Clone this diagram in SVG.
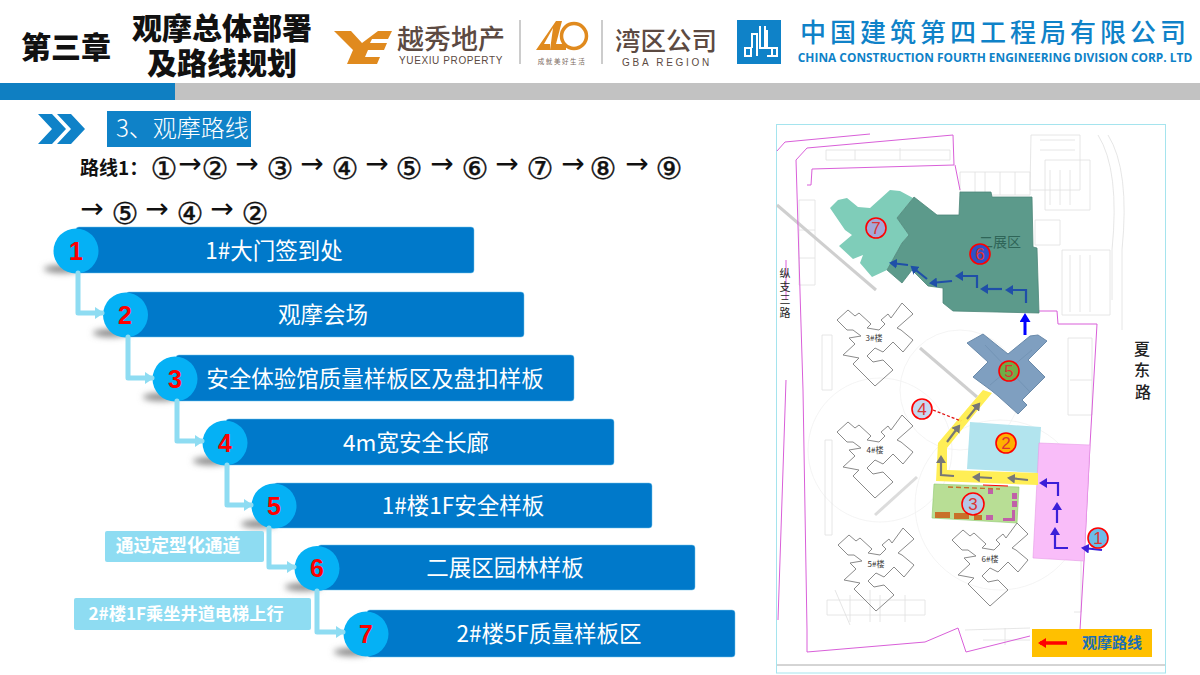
<svg xmlns="http://www.w3.org/2000/svg" xmlns:xlink="http://www.w3.org/1999/xlink" width="1200" height="675" viewBox="0 0 1200 675">
<style>
text{font-family:"Noto Sans CJK SC","Liberation Sans",sans-serif}
.bar{fill:#0079ca;stroke:#6cc0e8;stroke-width:.5}
.bt{fill:#fff;font-size:22.5px;text-anchor:middle}
.num{font-family:"Liberation Sans",sans-serif;font-weight:700;font-size:25px;fill:#f00;text-anchor:middle}
.c{fill:#05b1f5}
.sh{fill:#8a8a8a;filter:url(#b)}
.link{fill:none;stroke:#8edcf2;stroke-width:5;stroke-linejoin:round;stroke-linecap:round;marker-end:url(#ah)}
.tag{fill:#8edcf2}
.tt{fill:#fff;font-weight:700;text-anchor:middle}
.rt{font-size:30px;font-family:"DejaVu Sans",sans-serif;text-anchor:middle;fill:#111;stroke:#111;stroke-width:.4}
.ra{font-size:28px;font-family:"DejaVu Sans",sans-serif;text-anchor:middle;fill:#111}
.b{fill:none;stroke:#8a8a8a;stroke-width:1}
.lbl{font-size:8px;fill:#333;text-anchor:middle}
.pk{fill:none;stroke:#d95fd9;stroke-width:1}
.lg{fill:none;stroke:#dfdfdf;stroke-width:.8}
.fa{fill:none;stroke:#f1f1f1;stroke-width:.8}
.mc{stroke:#f00;stroke-width:1.6}
.mn{font-size:17px;fill:#d33;text-anchor:middle;font-family:"Liberation Sans",sans-serif}
.db{fill:none;stroke:#1f4fa8;stroke-width:2.2;marker-end:url(#adb)}
.pb{fill:none;stroke:#3b1fd8;stroke-width:2.2;marker-end:url(#apb)}
.gr{fill:none;stroke:#777;stroke-width:2.2;marker-end:url(#agr)}
</style>
<defs>
<filter id="b" x="-50%" y="-150%" width="200%" height="400%"><feGaussianBlur stdDeviation="3"/></filter>
<marker id="ah" markerUnits="userSpaceOnUse" markerWidth="12" markerHeight="14" refX="7" refY="7" orient="auto"><path d="M0,1L9,7L0,13Z" fill="#8edcf2"/></marker>
<marker id="adb" markerUnits="userSpaceOnUse" markerWidth="10" markerHeight="10" refX="6" refY="5" orient="auto"><path d="M0,0L8,5L0,10Z" fill="#1f4fa8"/></marker>
<marker id="apb" markerUnits="userSpaceOnUse" markerWidth="10" markerHeight="10" refX="6" refY="5" orient="auto"><path d="M0,0L8,5L0,10Z" fill="#3b1fd8"/></marker>
<marker id="agr" markerUnits="userSpaceOnUse" markerWidth="10" markerHeight="10" refX="6" refY="5" orient="auto"><path d="M0,0L8,5L0,10Z" fill="#777"/></marker>
<marker id="abl" markerUnits="userSpaceOnUse" markerWidth="11" markerHeight="11" refX="6" refY="5.5" orient="auto"><path d="M0,0L9,5.5L0,11Z" fill="#00f"/></marker>
<marker id="ard" markerUnits="userSpaceOnUse" markerWidth="10" markerHeight="10" refX="6" refY="5" orient="auto"><path d="M0,0L8,5L0,10Z" fill="#f00"/></marker>
<path id="bld" d="M-38,-18L-27,-28L-20,-22L-16,-25L-4,-14L-8,-10L4,-8L10,-14L6,-18L13,-24L16,-20L27,-35L38,-24L22,-10L26,-8L38,2L28,14L18,4L8,14L0,10L-8,18L-2,24L8,22L18,32L0,48L-22,26L-16,20L-32,17L-20,6L-26,0L-14,-2L-22,-8L-28,-8Z"/>
</defs>
<rect width="1200" height="675" fill="#fff"/>

<g id="header">
<rect y="83" width="1200" height="17" fill="#c2c2c2"/>
<rect y="83" width="175" height="17" fill="#0f7fc2"/>
<text x="66" y="58" font-size="30" font-weight="900" text-anchor="middle" fill="#111">第三章</text>
<text x="222" y="39" font-size="30" font-weight="900" text-anchor="middle" fill="#111">观摩总体部署</text>
<text x="222" y="74" font-size="30" font-weight="900" text-anchor="middle" fill="#111">及路线规划</text>
</g>

<g id="logo-yuexiu">
<path d="M334,31H351L362,43L378,31H392L388,39H372L370,43H387L384,50H368L365,57H380L377,64H347L353,50Z" fill="#e08a1e"/>
<text x="451" y="49" font-size="27" font-weight="500" text-anchor="middle" fill="#5c4a42">越秀地产</text>
<text x="451" y="64" font-size="10" text-anchor="middle" fill="#5c4a42" letter-spacing=".6" style="font-family:'Liberation Sans',sans-serif">YUEXIU PROPERTY</text>
<line x1="520" y1="20" x2="520" y2="64" stroke="#999"/>
<path d="M536,50L556,21H562L556,44H566V50H550L553,28L544,44H550V50Z" fill="#e08a1e"/>
<circle cx="574" cy="36" r="12.5" fill="none" stroke="#e08a1e" stroke-width="3.5"/>
<text x="562" y="64" font-size="6.5" text-anchor="middle" fill="#7a6a60" letter-spacing="1.6">成就美好生活</text>
<line x1="602" y1="20" x2="602" y2="64" stroke="#999"/>
<text x="666" y="50" font-size="25.5" font-weight="500" text-anchor="middle" fill="#5c4a42">湾区公司</text>
<text x="667" y="66" font-size="10" text-anchor="middle" fill="#5c4a42" letter-spacing="2.7" style="font-family:'Liberation Sans',sans-serif">GBA REGION</text>
</g>

<g id="logo-cscec">
<rect x="737" y="20" width="44" height="44" fill="#0f82c8"/>
<path d="M745,48H751V56H745ZM752,48V34H757V56M760,26V48H765V26M767,30V48H772V56H767M772,48H777V56H772" fill="none" stroke="#fff" stroke-width="2"/>
<text x="995" y="42" font-size="26" text-anchor="middle" fill="#0f82c8" font-weight="500" letter-spacing="4">中国建筑第四工程局有限公司</text>
<text x="995" y="62" font-size="11.9" text-anchor="middle" fill="#0f82c8" font-weight="700" style="font-family:'Open Sans','Liberation Sans',sans-serif">CHINA CONSTRUCTION FOURTH ENGINEERING DIVISION CORP. LTD</text>
</g>

<g id="section-title">
<path d="M38,114H52L66,129L52,144H38L52,129ZM57,114H71L85,129L71,144H57L71,129Z" fill="#0f82c8"/>
<rect x="107" y="111" width="144" height="36" fill="#0f82c8"/>
<text x="116" y="137" font-size="24" font-weight="300" fill="#fff">3、观摩路线</text>
</g>

<g id="route-text">
<text x="80" y="175" font-size="19" font-weight="700" fill="#111">路线1：</text>
<text class="rt" x="164" y="179">①</text><text class="ra" x="190" y="173">→</text>
<text class="rt" x="215" y="179">②</text><text class="ra" x="247" y="173">→</text>
<text class="rt" x="280" y="179">③</text><text class="ra" x="312" y="173">→</text>
<text class="rt" x="345" y="179">④</text><text class="ra" x="377" y="173">→</text>
<text class="rt" x="409" y="179">⑤</text><text class="ra" x="442" y="173">→</text>
<text class="rt" x="475" y="179">⑥</text><text class="ra" x="507" y="173">→</text>
<text class="rt" x="540" y="179">⑦</text><text class="ra" x="573" y="173">→</text>
<text class="rt" x="603" y="179">⑧</text><text class="ra" x="637" y="173">→</text>
<text class="rt" x="669" y="179">⑨</text>
<text class="ra" x="92" y="218">→</text><text class="rt" x="125" y="224">⑤</text>
<text class="ra" x="157" y="218">→</text><text class="rt" x="190" y="224">④</text>
<text class="ra" x="222" y="218">→</text><text class="rt" x="255" y="224">②</text>
</g>

<g id="step-1"><ellipse class="sh" cx="62" cy="269" rx="18" ry="4"/><rect class="bar" x="76" y="227" width="398" height="46" rx="3"/><circle class="c" cx="76" cy="251" r="22.5"/><text class="num" x="76" y="260">1</text><text class="bt" x="274" y="259">1#大门签到处</text></g>
<g id="step-2"><ellipse class="sh" cx="111" cy="333" rx="18" ry="4"/><rect class="bar" x="126" y="292" width="398" height="45" rx="3"/><circle class="c" cx="125.5" cy="315" r="22.5"/><text class="num" x="125" y="324">2</text><text class="bt" x="323" y="323">观摩会场</text></g>
<g id="step-3"><ellipse class="sh" cx="161" cy="397" rx="18" ry="4"/><rect class="bar" x="176" y="355" width="398" height="46" rx="3"/><circle class="c" cx="175" cy="379" r="22.5"/><text class="num" x="175" y="388">3</text><text class="bt" x="375" y="387">安全体验馆质量样板区及盘扣样板</text></g>
<g id="step-4"><ellipse class="sh" cx="211" cy="461" rx="18" ry="4"/><rect class="bar" x="226" y="419" width="388" height="46" rx="3"/><circle class="c" cx="225" cy="443" r="22.5"/><text class="num" x="225" y="452">4</text><text class="bt" x="416" y="451">4m宽安全长廊</text></g>
<g id="step-5"><ellipse class="sh" cx="259" cy="524" rx="18" ry="4"/><rect class="bar" x="274" y="483" width="378" height="45" rx="3"/><circle class="c" cx="274" cy="506" r="22.5"/><text class="num" x="274" y="515">5</text><text class="bt" x="463" y="514">1#楼1F安全样板</text></g>
<g id="step-6"><ellipse class="sh" cx="303" cy="587" rx="18" ry="4"/><rect class="bar" x="318" y="545" width="377" height="45" rx="3"/><circle class="c" cx="317" cy="568.5" r="22.5"/><text class="num" x="317" y="577">6</text><text class="bt" x="505" y="576">二展区园林样板</text></g>
<g id="step-7"><ellipse class="sh" cx="352" cy="652" rx="18" ry="4"/><rect class="bar" x="367" y="610" width="368" height="47" rx="3"/><circle class="c" cx="366" cy="634" r="22.5"/><text class="num" x="366" y="643">7</text><text class="bt" x="549" y="642">2#楼5F质量样板区</text></g>

<g id="notes">
<rect class="tag" x="105" y="531" width="159" height="31" rx="2"/>
<text class="tt" x="178" y="552" font-size="17.8">通过定型化通道</text>
<rect class="tag" x="74" y="598" width="237" height="32" rx="2"/>
<text class="tt" x="186" y="620" font-size="17.2">2#楼1F乘坐井道电梯上行</text>
</g>

<g id="connectors">
<path class="link" d="M78,273V313H102"/>
<path class="link" d="M128,337V378H152"/>
<path class="link" d="M177,401V441H202"/>
<path class="link" d="M227,465V505H251"/>
<path class="link" d="M269,528V567H294"/>
<path class="link" d="M317,591V632H343"/>
</g>

<g id="site-map">
<rect x="776.5" y="124.5" width="389" height="548.5" fill="#fff" stroke="#a5e4ee" stroke-width="1"/>
<line x1="777" y1="665" x2="1165" y2="665" stroke="#aaa"/>

<g class="fa">
<circle cx="1000" cy="505" r="85"/><circle cx="880" cy="450" r="72"/><circle cx="960" cy="390" r="60"/>
</g>
<g class="lg">
<path d="M826,150H950V160H826ZM900,148V160M855,150V160"/>
<path d="M1031,135H1080V190H1030ZM1045,160H1090V210H1045ZM960,172H1030V195H960ZM975,172V195M985,172V195M1000,172V195M1015,172V195M1040,140H1075M1040,150H1075M1050,170V205M1060,170V205M1070,170V205"/>
<path d="M1035,220H1060V245H1035ZM1062,250H1110V315H1062ZM1080,255V312M1070,255V312M1090,255V312"/>
<path d="M1098,135Q1120,170 1112,250V300M1108,135Q1130,170 1122,250V330"/>
<path d="M799,200H815V285H799ZM799,230H815M799,258H815"/>
<path d="M1068,338H1092V415H1068ZM1070,380H1092"/>
<path d="M822,335H832V390H822ZM825,440H832V535H825ZM1074,560H1081V612H1074"/>
<path d="M827,600H925V615H827ZM850,595V622M880,595V622M905,595V622M835,590L850,625M870,590L870,622"/>
<path d="M965,630L1030,628M983,640H1030M1005,628V645"/>
</g>
<line x1="777" y1="205" x2="876" y2="290" stroke="#cfcfcf" stroke-width="3"/>
<line x1="920" y1="348" x2="977" y2="397" stroke="#cfcfcf" stroke-width="3"/>
<line x1="875" y1="515" x2="917" y2="477" stroke="#dcdcdc" stroke-width="3"/>

<path class="pk" d="M777,151L785,142L870,134M796,160L807,148L953,135L954,165L812,169L811,185H807"/>
<path class="pk" d="M796,160L803,390L807,630L807,652L925,642L958,628L966,652L1030,636M1080,630L1084,561L1090,445L1097,324H1058L1057,311L1039,311M955,165L960,190"/>
<path class="pk" d="M786,260L786,300M786,380L778,620"/>

<g id="zone-7"><polygon points="830,208 838,200 847,198 858,207 870,208 890,190 900,191 913,198 897,218 909,235 902,243 887,270 872,277 860,263 863,255 853,259 839,246 852,235 845,230" fill="#7fcdb9"/></g>
<g id="zone-6"><polygon points="914,197 937,215 959,215 960,192 991,192 992,197 1032,197 1033,247 1037,248 1039,313 953,311 943,303 943,288 928,286 912,270 902,283 887,270 902,243 909,235 897,218" fill="#5c9a8b" stroke="#4d8779" stroke-width=".8"/>
<text x="1000" y="247" font-size="14" text-anchor="middle" fill="#2f6558">二展区</text></g>
<g id="zone-5"><polygon points="967,343 983,334 1008,354 1030,336 1038,335 1047,341 1028,360 1045,377 1022,400 1027,405 1018,414 998,396 992,391 973,377 988,362" fill="#7f9fc0" stroke="#6a8aaa"/>
<path d="M985,345L1030,392M1032,350L990,385" fill="none" stroke="#6f8fb0" stroke-width=".7"/></g>
<g id="zone-2"><polygon points="970,422 1041,427 1038,473 967,469" fill="#b2e4ee"/></g>
<g id="zone-1"><polygon points="1039,443 1090,445 1084,561 1033,558" fill="#f9bdf9" stroke="#e59ae5" stroke-width=".6"/></g>
<g id="zone-path"><polygon points="983,390 992,393 968,422 947,448 947,470 1038,473 1038,485 936,481 938,443" fill="#ffee55"/></g>
<g id="zone-3"><polygon points="934,484 1019,487 1017,523 932,518" fill="#b8de95" stroke="#8fc96e" stroke-width=".6"/>
<rect x="935" y="512" width="15" height="6" fill="#c8702a"/><rect x="954" y="513" width="15" height="6" fill="#c8702a"/><rect x="974" y="515" width="8" height="5" fill="#c8702a"/>
<rect x="986" y="515" width="7" height="5" fill="#c060a8"/><rect x="1012" y="493" width="5" height="6" fill="#c060a8"/><rect x="1012" y="501" width="5" height="6" fill="#c060a8"/><rect x="1003" y="518" width="12" height="3" fill="#c060a8"/><rect x="1012" y="510" width="3" height="9" fill="#c060a8"/><rect x="988" y="489" width="5" height="5" fill="#c060a8"/>
<line x1="948" y1="487" x2="1000" y2="489" stroke="#c8702a" stroke-dasharray="5 3" stroke-width="1.4"/>
<line x1="983" y1="485" x2="1008" y2="486" stroke="#f00" stroke-width="1"/></g>

<g id="towers">
<use xlink:href="#bld" href="#bld" class="b" transform="translate(875,338)"/>
<use xlink:href="#bld" href="#bld" class="b" transform="translate(875,450)"/>
<use xlink:href="#bld" href="#bld" class="b" transform="translate(876,563)"/>
<use xlink:href="#bld" href="#bld" class="b" transform="translate(990,558)"/>
<text class="lbl" x="874" y="341">3#楼</text><text class="lbl" x="875" y="453">4#楼</text><text class="lbl" x="876" y="567">5#楼</text><text class="lbl" x="990" y="562">6#楼</text>
</g>

<g id="roads" fill="#222" font-size="11" text-anchor="middle">
<text x="785" y="278">纵</text><text x="785" y="291">支</text><text x="785" y="304">三</text><text x="785" y="317">路</text>
<text x="1142" y="355" font-size="16" font-weight="500">夏</text><text x="1142" y="376" font-size="16" font-weight="500">东</text><text x="1143" y="398" font-size="16" font-weight="500">路</text>
</g>

<g id="map-connectors">
<path class="db" d="M1026,303V290H1007"/><path class="db" d="M1002,289H982"/><path class="db" d="M977,288V276H957"/><path class="db" d="M952,281L931,283"/><path class="db" d="M927,279L912,267"/><path class="db" d="M908,265L891,263"/>
<path d="M1025,335V316" fill="none" stroke="#00f" stroke-width="3" marker-end="url(#abl)"/>
<path class="pb" d="M1102,550L1083,548"/><path class="pb" d="M1068,548H1055V529"/><path class="pb" d="M1057,523V504"/><path class="pb" d="M1058,496V483H1041"/>
<path class="gr" d="M1028,480L1009,478"/><path class="gr" d="M992,478L974,477"/><path class="gr" d="M954,476L941,475V457"/><path class="gr" d="M947,442L959,426"/><path class="gr" d="M967,419L979,404"/>
<line x1="933" y1="410" x2="961" y2="421" stroke="#e01010" stroke-width="1.3" stroke-dasharray="3 2"/>
</g>

<g id="marker-1"><circle class="mc" cx="1098" cy="538" r="10" fill="#6cbce8"/><text class="mn" x="1098" y="544">1</text></g>
<g id="marker-2"><circle class="mc" cx="1006" cy="443" r="10" fill="#ffb000"/><text class="mn" x="1006" y="449">2</text></g>
<g id="marker-3"><circle class="mc" cx="973" cy="504" r="11" fill="#b4c7e7"/><text class="mn" x="973" y="510">3</text></g>
<g id="marker-4"><circle class="mc" cx="922" cy="409" r="10" fill="#c5d8f0"/><text class="mn" x="922" y="415">4</text></g>
<g id="marker-5"><circle class="mc" cx="1009" cy="371" r="10" fill="#70ad47"/><text class="mn" x="1009" y="377">5</text></g>
<g id="marker-6"><circle class="mc" cx="980" cy="254" r="10" fill="#3050c8"/><text class="mn" x="980" y="260">6</text></g>
<g id="marker-7"><circle class="mc" cx="876" cy="228" r="10" fill="#a4a8d8"/><text class="mn" x="876" y="234">7</text></g>

<g id="legend">
<rect x="1032" y="629" width="120" height="28" fill="#ffc000"/>
<path d="M1067,643H1040" stroke="#f00" stroke-width="3.5" fill="none" marker-end="url(#ard)"/>
<text x="1112" y="648" font-size="15" font-weight="700" text-anchor="middle" fill="#1a6fb5">观摩路线</text>
</g>
</g>
</svg>
